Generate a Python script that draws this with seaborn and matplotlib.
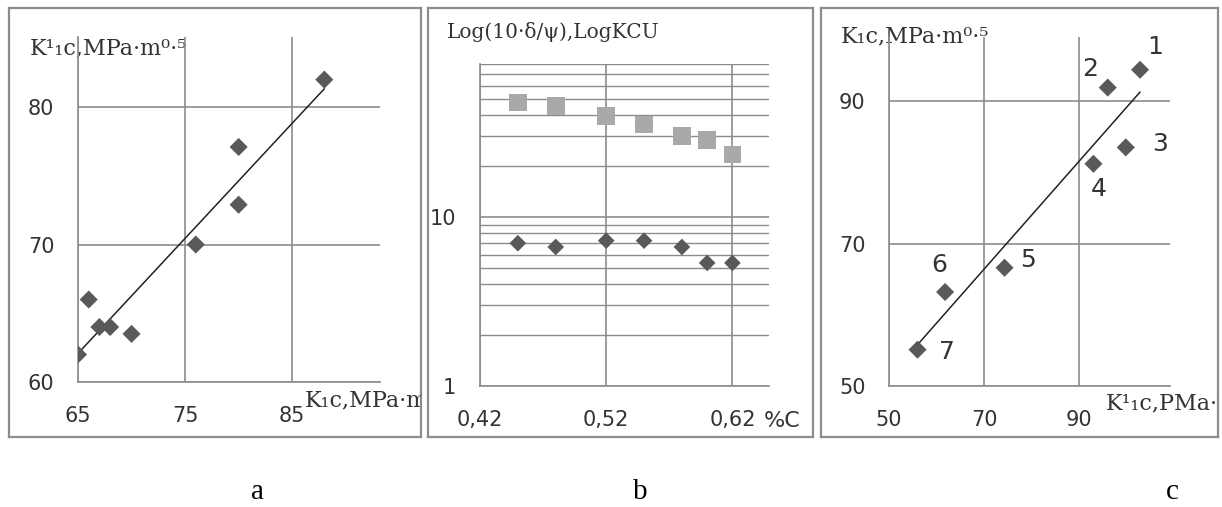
import matplotlib
matplotlib.use("Agg")
import matplotlib.pyplot as plt
import seaborn as sns
import pandas as pd
from matplotlib.ticker import FixedLocator, NullFormatter, LogLocator

W, H = 1222, 507

# panel a: K1c vs K'1c
a_x = [65, 66, 67, 68, 70, 76, 80, 80, 88]
a_y = [62.0, 66.0, 64.0, 64.0, 63.5, 70.0, 77.1, 72.9, 82.0]

# panel b: log values vs carbon content
b_c = [0.45, 0.48, 0.52, 0.55, 0.58, 0.60, 0.62]
b_kcu = [47.5, 45.4, 39.5, 35.3, 30.1, 28.5, 23.4]
b_dp = [7.0, 6.65, 7.25, 7.25, 6.65, 5.35, 5.35]

# panel c: numbered steels
c_x = [102.8, 96.0, 99.8, 93.0, 74.3, 61.8, 56.0]
c_y = [94.4, 91.9, 83.5, 81.2, 66.6, 63.2, 55.1]
c_lab = ["1", "2", "3", "4", "5", "6", "7"]
# label offsets in pixels (right, down)
c_off = [(15, -23), (-18, -19), (34, -3), (5, 25), (23, -8), (-6, -27), (29, 2)]

GRID = "#8c8c8c"
DARK = "#595959"
LIGHT = "#a9a9a9"
TXT = "#333333"
SERIF = ["DejaVu Serif"]

sns.set_style("white")
plt.rcParams["font.family"] = ["DejaVu Sans"]

fig = plt.figure(figsize=(W / 100, H / 100), dpi=100)


def box(l, t, r, b):
    return [l / W, 1 - b / H, (r - l) / W, (b - t) / H]


def frame(l, t, r, b):
    f = fig.add_axes(box(l, t, r, b))
    f.set_xticks([])
    f.set_yticks([])
    for s in f.spines.values():
        s.set_color(GRID)
        s.set_linewidth(1.6)
    return f


def ftext(f, x, y, s, **kw):
    kw.setdefault("family", SERIF)
    kw.setdefault("fontsize", 16)
    kw.setdefault("color", TXT)
    f.text(x / W, 1 - y / H, s, transform=fig.transFigure, clip_on=True,
           va="center", **kw)


def style(ax):
    sns.despine(ax=ax)
    for s in ["left", "bottom"]:
        ax.spines[s].set_color(GRID)
        ax.spines[s].set_linewidth(1.2)
    ax.grid(True, which="major", color=GRID, lw=1.2)
    ax.tick_params(which="major", direction="out", length=7, width=1.2,
                   color=GRID, labelsize=15, pad=10, labelcolor=TXT)
    ax.set_xlabel("")
    ax.set_ylabel("")
    ax.patch.set_alpha(0)
    ax.set_axisbelow(True)


# ---- panel a
fa = frame(9, 8, 421, 437)
axa = fig.add_axes(box(78, 37, 380, 382))
dfa = pd.DataFrame({"x": a_x, "y": a_y})
sns.regplot(data=dfa, x="x", y="y", ax=axa, scatter=False, ci=None,
            line_kws={"color": "#222222", "lw": 1.1})
sns.scatterplot(data=dfa, x="x", y="y", ax=axa, marker="D", s=85,
                color=DARK, edgecolor="none", zorder=3)
axa.set_xlim(65, 93.2)
axa.set_ylim(60, 85.1)
axa.set_xticks([65, 75, 85])
axa.set_yticks([60, 70, 80])
style(axa)
ftext(fa, 30, 48, "K¹₁c,MPa·m⁰·⁵")
ftext(fa, 305, 400, "K₁c,MPa·m⁰·⁵")

# ---- panel b
fb = frame(428, 8, 813, 437)
axb = fig.add_axes(box(480, 64, 769, 386))
dfb = pd.DataFrame({"c": b_c, "kcu": b_kcu, "dp": b_dp})
sns.scatterplot(data=dfb, x="c", y="kcu", ax=axb, marker="s", s=160,
                color=LIGHT, edgecolor="none", zorder=3)
sns.scatterplot(data=dfb, x="c", y="dp", ax=axb, marker="D", s=72,
                color=DARK, edgecolor="none", zorder=3)
axb.set_yscale("log")
axb.set_xlim(0.42, 0.649)
axb.set_ylim(1, 80.5)
axb.set_xticks([0.42, 0.52, 0.62])
axb.set_xticklabels(["0,42", "0,52", "0,62"])
axb.yaxis.set_major_locator(FixedLocator([1, 10]))
axb.set_yticklabels(["1", "10"])
axb.yaxis.set_minor_locator(LogLocator(subs=range(2, 10)))
axb.yaxis.set_minor_formatter(NullFormatter())
style(axb)
axb.grid(True, which="minor", axis="y", color=GRID, lw=1.0)
axb.tick_params(which="minor", length=0)
ftext(fb, 447, 32, "Log(10·δ/ψ),LogKCU", fontsize=14.5)
ftext(fb, 764, 421, "%C", family=["DejaVu Sans"], fontsize=16)

# ---- panel c
fc = frame(821, 8, 1218, 437)
axc = fig.add_axes(box(889, 37, 1170, 386))
dfc = pd.DataFrame({"x": c_x, "y": c_y})
sns.regplot(data=dfc, x="x", y="y", ax=axc, scatter=False, ci=None,
            line_kws={"color": "#222222", "lw": 1.1})
sns.scatterplot(data=dfc, x="x", y="y", ax=axc, marker="D", s=85,
                color=DARK, edgecolor="none", zorder=3)
for x, y, t, (dx, dy) in zip(c_x, c_y, c_lab, c_off):
    axc.annotate(t, (x, y), xytext=(dx * 0.72, -dy * 0.72),
                 textcoords="offset points", ha="center", va="center",
                 fontsize=18, color=TXT)
axc.set_xlim(50, 109.1)
axc.set_ylim(50, 99)
axc.set_xticks([50, 70, 90])
axc.set_yticks([50, 70, 90])
style(axc)
ftext(fc, 841, 36, "K₁c,MPa·m⁰·⁵")
ftext(fc, 1106, 403, "K¹₁c,PMa·m⁰·⁵")

# panel letters
for x, t in [(257, "a"), (640, "b"), (1172, "c")]:
    fig.text(x / W, 1 - 492 / H, t, ha="center", va="center",
             family=["Liberation Serif"], fontsize=21, color="black")

fig.savefig("out.png", dpi=100, facecolor="white")
